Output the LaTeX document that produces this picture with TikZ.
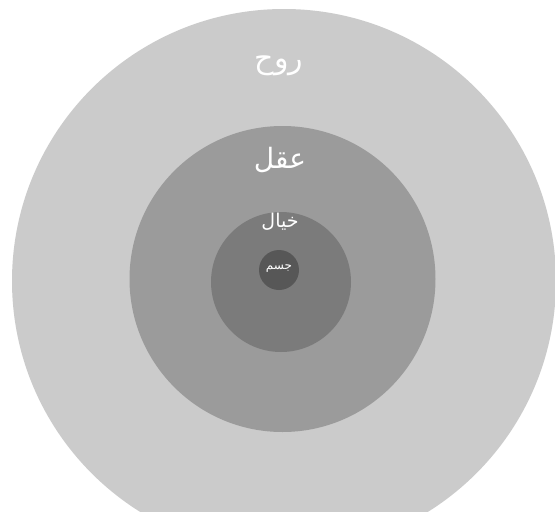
\documentclass[tikz,border=0pt]{standalone}
\usepackage{fontspec}
\newfontfamily\arabicfont[Script=Arabic]{DejaVu Sans}
\TeXXeTstate=1
\definecolor{ringA}{HTML}{CBCBCB}
\definecolor{ringB}{HTML}{9B9B9B}
\definecolor{ringC}{HTML}{7B7B7B}
\definecolor{ringD}{HTML}{575757}
\begin{document}
\begin{tikzpicture}[x=1pt,y=-1pt,
  disc/.style={circle,inner sep=0pt,outer sep=0pt,draw=none},
  lbl/.style={text=white,inner sep=0pt,font=\arabicfont}]
\useasboundingbox (0,0) rectangle (555,512);
\clip (0,0) rectangle (555,512);
\fill[white] (0,0) rectangle (555,512);
\node[disc,fill=ringA,minimum size=544pt] (ruh) at (284,281) {};
\node[disc,fill=ringB,minimum size=306pt] (aql) at (282.5,279) {};
\node[disc,fill=ringC,minimum size=140pt] (khial) at (281,282) {};
\node[disc,fill=ringD,minimum size=40pt] (jism) at (279,270) {};
\node[lbl,font=\arabicfont\fontsize{30}{34}\selectfont] (truh) at (279,66) {\beginR روح\endR};
\node[lbl,font=\arabicfont\fontsize{28}{32}\selectfont] (taql) at (280,160) {\beginR عقل\endR};
\node[lbl,font=\arabicfont\fontsize{19}{23}\selectfont] (tkhial) at (280,222) {\beginR خیال\endR};
\node[lbl,font=\arabicfont\fontsize{12}{14}\selectfont] (tjism) at (279,269) {\beginR جسم\endR};
\end{tikzpicture}
\end{document}
